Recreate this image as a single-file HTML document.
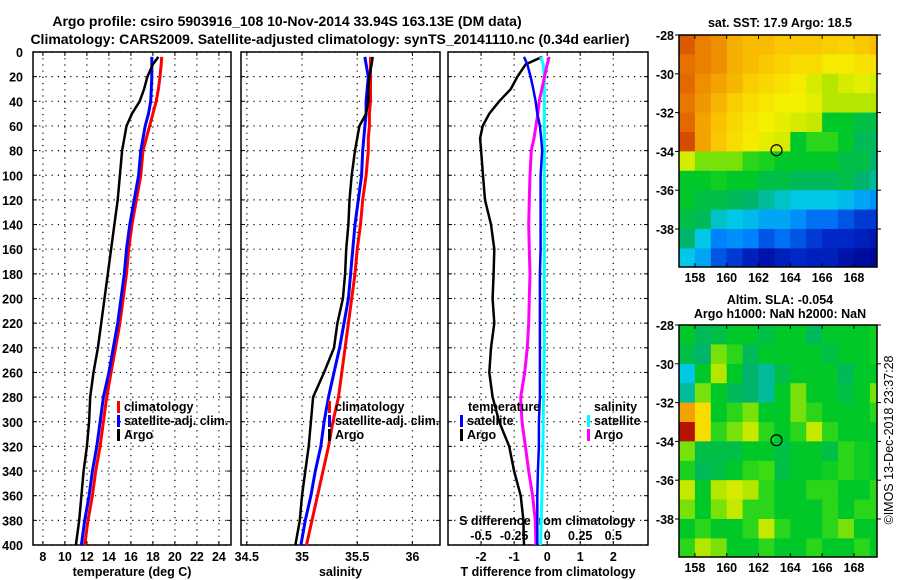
<!DOCTYPE html>
<html><head><meta charset="utf-8">
<style>
html,body{margin:0;padding:0;background:#fff;}
svg{display:block;font-family:"Liberation Sans",sans-serif;font-weight:bold;font-size:12.5px;}
</style></head>
<body>
<svg id="fig" width="900" height="580" viewBox="0 0 900 580" xmlns="http://www.w3.org/2000/svg">
<text x="287" y="26" text-anchor="middle" font-size="14">Argo profile: csiro 5903916_108 10-Nov-2014 33.94S 163.13E (DM data)</text>
<text x="330" y="44" text-anchor="middle" font-size="14">Climatology: CARS2009. Satellite-adjusted climatology: synTS_20141110.nc (0.34d earlier)</text>
<g id="p1"></g>
<g id="p2"></g>
<g id="p3"></g>
<g id="m1"></g>
<g id="m2"></g>
<text x="780" y="27" text-anchor="middle">sat. SST: 17.9 Argo: 18.5</text>
<text x="780" y="304" text-anchor="middle">Altim. SLA: -0.054</text>
<text x="780" y="318" text-anchor="middle">Argo h1000: NaN h2000: NaN</text>
<text transform="translate(893,440) rotate(-90)" text-anchor="middle" font-weight="normal">©IMOS 13-Dec-2018 23:37:28</text>
</svg>
<script>
const depths=[4,10,20,30,40,50,60,70,80,100,120,140,160,180,200,220,240,260,280,300,320,340,360,380,400];
const tempClim=[18.8,18.75,18.65,18.5,18.3,18.0,17.7,17.4,17.1,16.9,16.5,16.1,15.8,15.6,15.3,15.0,14.6,14.2,13.8,13.5,13.2,12.8,12.5,12.1,11.8];
const tempSat=[17.9,17.9,17.9,17.85,17.8,17.6,17.3,17.1,16.9,16.7,16.3,15.9,15.6,15.4,15.1,14.8,14.4,14.0,13.5,13.2,12.9,12.5,12.2,11.8,11.5];
const tempArgo=[18.5,18.0,17.5,17.2,16.8,16.1,15.6,15.4,15.2,15.0,14.8,14.5,14.2,13.9,13.6,13.3,13.0,12.6,12.3,12.2,12.0,11.7,11.5,11.3,11.0];
const salClim=[35.62,35.62,35.62,35.62,35.62,35.61,35.61,35.6,35.6,35.58,35.55,35.53,35.5,35.48,35.45,35.42,35.39,35.36,35.33,35.28,35.24,35.19,35.14,35.09,35.04];
const salSat=[35.57,35.58,35.6,35.59,35.58,35.58,35.57,35.56,35.55,35.54,35.51,35.48,35.46,35.44,35.42,35.38,35.34,35.29,35.24,35.2,35.17,35.12,35.08,35.03,34.99];
const salArgo=[35.64,35.63,35.61,35.6,35.6,35.58,35.52,35.5,35.48,35.45,35.43,35.42,35.4,35.39,35.37,35.32,35.29,35.2,35.1,35.08,35.06,35.03,35.0,34.98,34.94];
const tDiffArgo=[-0.15,-0.65,-0.9,-1.1,-1.45,-1.75,-1.95,-2.03,-2.0,-1.94,-1.88,-1.7,-1.6,-1.62,-1.65,-1.6,-1.7,-1.75,-1.65,-1.45,-1.15,-1.0,-0.8,-0.72,-0.7];
const tDiffSat=[-0.7,-0.6,-0.5,-0.42,-0.35,-0.3,-0.22,-0.18,-0.15,-0.2,-0.2,-0.2,-0.2,-0.22,-0.22,-0.22,-0.22,-0.22,-0.22,-0.25,-0.25,-0.28,-0.3,-0.3,-0.3];
const sDiffSat=[-0.05,-0.03,-0.022,-0.022,-0.022,-0.022,-0.022,-0.022,-0.022,-0.022,-0.022,-0.022,-0.022,-0.022,-0.022,-0.022,-0.022,-0.025,-0.028,-0.03,-0.032,-0.035,-0.04,-0.045,-0.05];
const sDiffArgo=[0.015,0.0,-0.02,-0.04,-0.06,-0.07,-0.085,-0.1,-0.12,-0.13,-0.135,-0.14,-0.135,-0.13,-0.135,-0.14,-0.15,-0.17,-0.2,-0.19,-0.165,-0.14,-0.11,-0.09,-0.085];
const depthTicks=[0,20,40,60,80,100,120,140,160,180,200,220,240,260,280,300,320,340,360,380,400];
const tempTicks=[8,10,12,14,16,18,20,22,24];
const salTicks=[34.5,35,35.5,36];
const salTickLabels=["34.5","35","35.5","36"];
const diffTicks=[-2,-1,0,1,2];
const sDiffTicks=[-0.5,-0.25,0,0.25,0.5];
const sDiffTickLabels=["-0.5","-0.25","0","0.25","0.5"];
const lonTicks=[158,160,162,164,166,168];
const latTicks=[-28,-30,-32,-34,-36,-38];
const sstGrid=[
[.9,.85,.83,.78,.76,.76,.74,.74,.74,.73,.72,.74,.76],
[.87,.85,.83,.78,.76,.74,.72,.7,.7,.67,.67,.69,.69],
[.88,.83,.8,.77,.73,.71,.69,.67,.62,.58,.62,.64,.62],
[.86,.82,.77,.73,.7,.68,.66,.66,.64,.58,.58,.58,.58],
[.88,.8,.75,.71,.68,.66,.64,.62,.6,.45,.45,.42,.42],
[.92,.8,.74,.7,.67,.64,.62,.45,.5,.5,.45,.4,.4],
[.62,.55,.55,.55,.5,.48,.45,.45,.45,.45,.42,.42,.38],
[.45,.45,.47,.45,.45,.42,.42,.4,.4,.4,.42,.38,.35],
[.45,.42,.42,.4,.38,.35,.32,.3,.3,.3,.28,.25,.22],
[.42,.4,.32,.3,.28,.25,.25,.22,.18,.18,.15,.12,.12],
[.38,.3,.2,.22,.2,.15,.18,.15,.12,.1,.1,.08,.06],
[.3,.25,.15,.12,.08,.05,.08,.1,.08,.08,.05,.03,.02]];
const slaGrid=[
[.45,.4,.42,.45,.45,.42,.45,.45,.4,.45,.45,.45,.47],
[.42,.38,.55,.5,.4,.45,.45,.45,.45,.42,.45,.45,.47],
[.3,.45,.58,.45,.38,.35,.42,.45,.45,.45,.4,.45,.45],
[.35,.55,.45,.4,.38,.35,.45,.55,.45,.45,.42,.45,.55],
[.8,.7,.45,.5,.55,.45,.45,.55,.5,.45,.45,.45,.5],
[1.0,.7,.5,.55,.6,.5,.45,.5,.6,.5,.45,.45,.45],
[.55,.42,.42,.42,.45,.45,.42,.45,.45,.42,.5,.47,.45],
[.48,.4,.42,.45,.5,.52,.42,.45,.45,.47,.5,.47,.45],
[.6,.45,.58,.62,.58,.5,.45,.45,.5,.5,.45,.45,.5],
[.55,.45,.55,.6,.5,.5,.45,.45,.45,.5,.45,.5,.5],
[.45,.5,.45,.45,.5,.6,.5,.45,.45,.5,.55,.45,.45],
[.5,.58,.55,.45,.45,.5,.45,.45,.5,.45,.45,.5,.45]];
const argoLon=163.13, argoLat=-33.94;

const NS='http://www.w3.org/2000/svg';
function mk(parent,tag,attrs,text){const e=document.createElementNS(NS,tag);for(const k in attrs)e.setAttribute(k,attrs[k]);if(text!==undefined)e.textContent=text;parent.appendChild(e);return e;}
const Y0=52,Y1=545;
const yDepth=d=>Y0+(d/400)*(Y1-Y0);
function lin(d0,d1,r0,r1){return v=>r0+(v-d0)/(d1-d0)*(r1-r0);}

function panel(g,x0,x1,xs,ticks,labels,title,showY){
  for(const d of depthTicks){
    const l=mk(g,'line',{x1:x0,x2:x1,y1:yDepth(d),y2:yDepth(d),stroke:'#000','stroke-width':1.2,'stroke-dasharray':'1.2 5'});
    
    mk(g,'line',{x1:x0,x2:x0+4,y1:yDepth(d),y2:yDepth(d),stroke:'#000'});
    mk(g,'line',{x1:x1-4,x2:x1,y1:yDepth(d),y2:yDepth(d),stroke:'#000'});
    if(showY){const t=mk(g,'text',{x:x0-10,y:yDepth(d)+5,'text-anchor':'end'},String(d));
      }
  }
  ticks.forEach((v,i)=>{
    const x=xs(v);
    const l=mk(g,'line',{x1:x,x2:x,y1:Y0,y2:Y1,stroke:'#000','stroke-width':1.2,'stroke-dasharray':'1.2 5'});
    
    mk(g,'line',{x1:x,x2:x,y1:Y0,y2:Y0+4,stroke:'#000'});
    mk(g,'line',{x1:x,x2:x,y1:Y1-4,y2:Y1,stroke:'#000'});
    const t=mk(g,'text',{x:x,y:561,'text-anchor':'middle'},labels[i]);
    
  });
  const r=mk(g,'rect',{x:x0,y:Y0,width:x1-x0,height:Y1-Y0,fill:'none',stroke:'#000','stroke-width':1.5});
  
  const tt=mk(g,'text',{x:(x0+x1)/2,y:576,'text-anchor':'middle'},title);
  
}
function series(g,xs,vals,color,w,name){
  const pts=vals.map((v,i)=>xs(v).toFixed(1)+','+yDepth(depths[i]).toFixed(1)).join(' ');
  const p=mk(g,'polyline',{points:pts,fill:'none',stroke:color,'stroke-width':w,'stroke-linejoin':'round'});
  
  
}
function legend(g,x,y,color,label){
  mk(g,'rect',{x:x,y:y-10,width:3,height:12,fill:color});
  const t=mk(g,'text',{x:x+7,y:y},label);
  
  
}

const p1=document.getElementById('p1');
const xT=lin(7.1,25.1,33,231);
panel(p1,33,231,xT,tempTicks,tempTicks.map(String),'temperature (deg C)',true);
series(p1,xT,tempClim,'#f00',3,'temp-climatology-line');
series(p1,xT,tempSat,'#00f',3,'temp-satellite-line');
series(p1,xT,tempArgo,'#000',2.5,'temp-argo-line');
legend(p1,117,411,'#f00','climatology');
legend(p1,117,425,'#00f','satellite-adj. clim.');
legend(p1,117,439,'#000','Argo');

const p2=document.getElementById('p2');
const xS=lin(34.447,36.25,241,440);
panel(p2,241,440,xS,salTicks,salTickLabels,'salinity',false);
series(p2,xS,salClim,'#f00',3,'sal-climatology-line');
series(p2,xS,salSat,'#00f',3,'sal-satellite-line');
series(p2,xS,salArgo,'#000',2.5,'sal-argo-line');
legend(p2,328,411,'#f00','climatology');
legend(p2,328,425,'#00f','satellite-adj. clim.');
legend(p2,328,439,'#000','Argo');

const p3=document.getElementById('p3');
const xD=lin(-3,3.05,448,648);
const xSD=v=>xD(v*4);
panel(p3,448,648,xD,diffTicks,diffTicks.map(String),'T difference from climatology',false);
sDiffTicks.forEach((v,i)=>{const t=mk(p3,'text',{x:xSD(v),y:540,'text-anchor':'middle'},sDiffTickLabels[i]);
  });
const st=mk(p3,'text',{x:547,y:525,'text-anchor':'middle'},'S difference from climatology');

series(p3,xD,tDiffArgo,'#000',2.5,'t-diff-argo-line');
series(p3,xSD,sDiffSat,'#0ff',3,'s-diff-satellite-line');
series(p3,xSD,sDiffArgo,'#f0f',3,'s-diff-argo-line');
series(p3,xD,tDiffSat,'#00f',2.5,'t-diff-satellite-line');
const lt=mk(p3,'text',{x:468,y:411},'temperature');
legend(p3,460,425,'#00f','satellite');
legend(p3,460,439,'#000','Argo');
const ls=mk(p3,'text',{x:594,y:411},'salinity');
legend(p3,587,425,'#0ff','satellite');
legend(p3,587,439,'#f0f','Argo');

const stops=[[0,[0,0,140]],[.1,[0,40,200]],[.2,[0,130,255]],[.3,[0,200,230]],[.38,[0,180,110]],[.45,[0,200,40]],[.52,[60,220,20]],[.58,[180,230,0]],[.66,[245,240,0]],[.74,[250,200,0]],[.82,[240,150,0]],[.9,[220,90,0]],[1,[180,20,0]]];
function cmap(v){for(let i=1;i<stops.length;i++){if(v<=stops[i][0]){const a=stops[i-1],b=stops[i];const f=(v-a[0])/(b[0]-a[0]);
  return 'rgb('+a[1].map((c,j)=>Math.round(c+(b[1][j]-c)*f)).join(',')+')';}}return 'rgb(180,20,0)';}
function map(g,top,grid,name){
  const L=679,R=877,B=top+232;
  const xl=lin(157,169.45,L,R), yl=lin(-28,-39.96,top,B);
  grid.forEach((row,r)=>row.forEach((v,c)=>{
    const x0=xl(157+c),x1=Math.min(xl(158+c),R),y0=yl(-28-r),y1=Math.min(yl(-29-r),B);
    const cell=mk(g,'rect',{x:x0,y:y0,width:x1-x0+0.5,height:y1-y0+0.5,fill:cmap(v)});
    
    
  }));
  const fr=mk(g,'rect',{x:L,y:top,width:R-L,height:B-top,fill:'none',stroke:'#000','stroke-width':1.5});
  
  lonTicks.forEach(v=>{const x=xl(v);mk(g,'line',{x1:x,x2:x,y1:top,y2:top+4,stroke:'#000'});mk(g,'line',{x1:x,x2:x,y1:B-4,y2:B,stroke:'#000'});
    const t=mk(g,'text',{x:x,y:B+15,'text-anchor':'middle'},String(v));});
  latTicks.forEach(v=>{const y=yl(v);mk(g,'line',{x1:L-4,x2:L,y1:y,y2:y,stroke:'#000'});mk(g,'line',{x1:R,x2:R+4,y1:y,y2:y,stroke:'#000'});
    const t=mk(g,'text',{x:L-5,y:y+5,'text-anchor':'end'},String(v));});
  const c=mk(g,'circle',{cx:xl(argoLon),cy:yl(argoLat),r:5.5,fill:'none',stroke:'#000','stroke-width':1.2});
  
}
map(document.getElementById('m1'),35,sstGrid,'sst');
map(document.getElementById('m2'),325,slaGrid,'sla');
</script>
</body></html>
